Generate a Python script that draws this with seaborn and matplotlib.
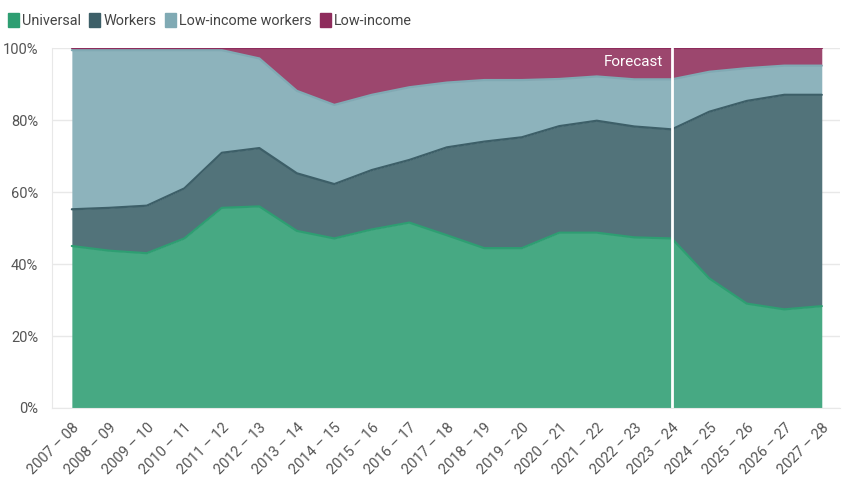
import matplotlib
matplotlib.use("Agg")
import matplotlib.pyplot as plt
import seaborn as sns
import pandas as pd
import numpy as np
from matplotlib.patches import Patch
from matplotlib.ticker import FuncFormatter

# shares of each group, %
years = ["2007 – 08", "2008 – 09", "2009 – 10", "2010 – 11", "2011 – 12", "2012 – 13",
         "2013 – 14", "2014 – 15", "2015 – 16", "2016 – 17", "2017 – 18", "2018 – 19",
         "2019 – 20", "2020 – 21", "2021 – 22", "2022 – 23", "2023 – 24", "2024 – 25",
         "2025 – 26", "2026 – 27", "2027 – 28"]
universal = [45.0, 43.7, 43.0, 47.1, 55.6, 56.0, 49.2, 47.1, 49.6, 51.5, 48.0,
             44.4, 44.4, 48.7, 48.7, 47.4, 47.1, 36.0, 29.0, 27.4, 28.3]
workers = [10.2, 11.9, 13.2, 13.9, 15.3, 16.2, 16.0, 15.1, 16.5, 17.4, 24.4,
           29.6, 30.8, 29.6, 31.1, 30.8, 30.3, 46.3, 56.3, 59.6, 58.7]
low_income_workers = [44.2, 43.8, 43.2, 38.4, 28.5, 24.9, 22.9, 22.0, 20.9, 20.2, 18.0,
                      17.1, 15.9, 13.1, 12.3, 13.1, 13.9, 11.1, 9.1, 8.1, 8.1]
low_income = [0.6, 0.6, 0.6, 0.6, 0.6, 2.9, 11.9, 15.8, 13.0, 10.9, 9.6,
              8.9, 8.9, 8.6, 7.9, 8.7, 8.7, 6.6, 5.6, 4.9, 4.9]
forecast_start = "2023 – 24"

series = ["Universal", "Workers", "Low-income workers", "Low-income"]
fills = ["#47a983", "#52737a", "#8db3bc", "#9c476e"]
edges = ["#2e9e72", "#3d5f68", "#80aab4", "#8e2c5c"]

df = pd.DataFrame({"year": years, "Universal": universal, "Workers": workers,
                   "Low-income workers": low_income_workers, "Low-income": low_income})
df["x"] = np.arange(len(df))

sns.set_style("white")
plt.rcParams["font.family"] = ["Roboto", "DejaVu Sans"]

fig = plt.figure(figsize=(8.48, 4.86), dpi=100)
ax = fig.add_axes([0.0613, 0.1605, 0.929, 0.7407])

ax.stackplot(df["x"], *[df[s] for s in series], colors=fills, linewidth=0)

# boundary lines on top of each band
cum = df[series].cumsum(axis=1)
for s, c in zip(series, edges):
    sns.lineplot(x=df["x"], y=cum[s], color=c, linewidth=1.6, ax=ax)

fx = years.index(forecast_start)
ax.axvline(fx, color="white", linewidth=2)
ax.text(fx - 0.22, 96, "Forecast", color="white", fontsize=11, ha="right", va="center")

ax.set_xlim(-0.53, 20.48)
ax.set_ylim(0, 100)
ax.set_yticks(range(0, 101, 20))
ax.yaxis.set_major_formatter(FuncFormatter(lambda v, _: f"{v:.0f}%"))
ax.set_xticks(df["x"])
ax.set_xticklabels(years, rotation=45, ha="right", rotation_mode="anchor")
ax.set_xlabel("")
ax.set_ylabel("")

ax.grid(axis="y", color="#e8e8e8", linewidth=1)
ax.set_axisbelow(True)
for side in ["top", "right"]:
    ax.spines[side].set_visible(False)
ax.spines["left"].set_color("#e8e8e8")
ax.spines["bottom"].set_color("#e8e8e8")
ax.tick_params(axis="y", length=7, color="#e8e8e8", labelsize=10.5, labelcolor="#555555", pad=3)
ax.tick_params(axis="x", length=6, color="#dddddd", labelsize=10.5, labelcolor="#555555", pad=3)

handles = [Patch(facecolor=c, edgecolor=c, label=s) for s, c in zip(series, edges)]
fig.legend(handles=handles, loc="upper left", bbox_to_anchor=(-0.006, 1.0), ncol=4,
           frameon=False, fontsize=10.4, handlelength=0.75, handleheight=1.1,
           handletextpad=0.25, columnspacing=0.55, labelcolor="#444444")

fig.savefig("out.png", dpi=100)
